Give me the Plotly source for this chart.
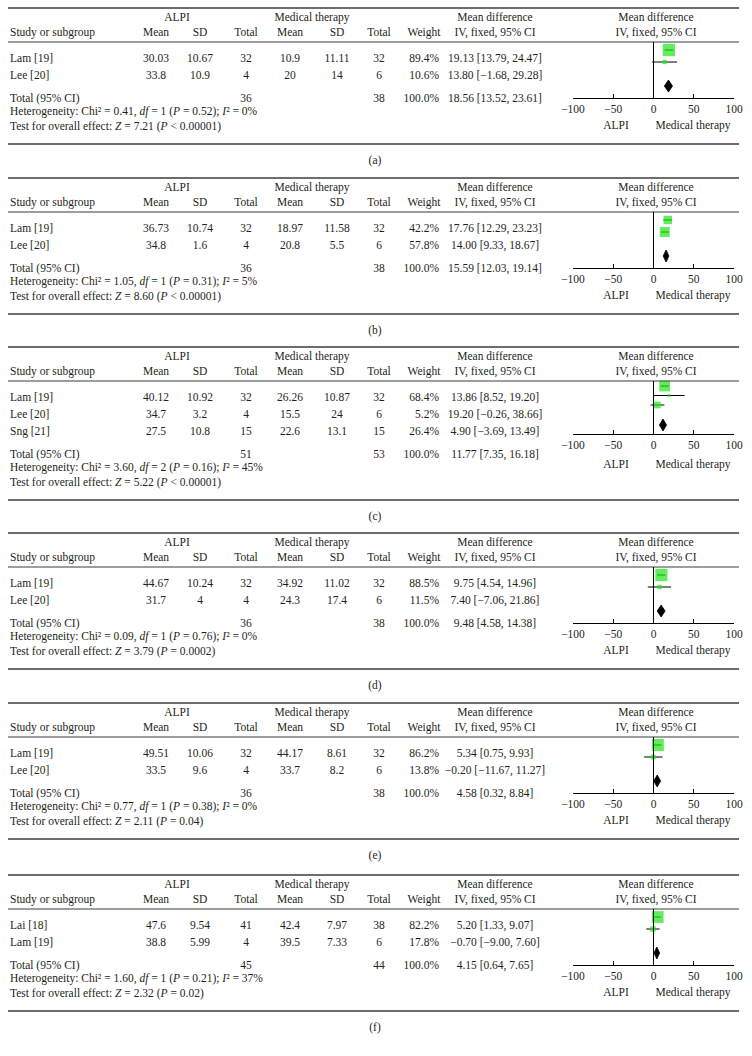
import math
import plotly.graph_objects as go

# ---------------- data ----------------
panel_labels = ["(a)", "(b)", "(c)", "(d)", "(e)", "(f)"]
study_names = [
    ["Lam [19]", "Lee [20]"],
    ["Lam [19]", "Lee [20]"],
    ["Lam [19]", "Lee [20]", "Sng [21]"],
    ["Lam [19]", "Lee [20]"],
    ["Lam [19]", "Lee [20]"],
    ["Lai [18]", "Lam [19]"],
]
alpi_mean = [[30.03, 33.8], [36.73, 34.8], [40.12, 34.7, 27.5], [44.67, 31.7], [49.51, 33.5], [47.6, 38.8]]
alpi_sd = [[10.67, 10.9], [10.74, 1.6], [10.92, 3.2, 10.8], [10.24, 4], [10.06, 9.6], [9.54, 5.99]]
alpi_n = [[32, 4], [32, 4], [32, 4, 15], [32, 4], [32, 4], [41, 4]]
med_mean = [[10.9, 20], [18.97, 20.8], [26.26, 15.5, 22.6], [34.92, 24.3], [44.17, 33.7], [42.4, 39.5]]
med_sd = [[11.11, 14], [11.58, 5.5], [10.87, 24, 13.1], [11.02, 17.4], [8.61, 8.2], [7.97, 7.33]]
med_n = [[32, 6], [32, 6], [32, 6, 15], [32, 6], [32, 6], [38, 6]]
weight = [[89.4, 10.6], [42.2, 57.8], [68.4, 5.2, 26.4], [88.5, 11.5], [86.2, 13.8], [82.2, 17.8]]
md = [[19.13, 13.80], [17.76, 14.00], [13.86, 19.20, 4.90], [9.75, 7.40], [5.34, -0.20], [5.20, -0.70]]
md_lo = [[13.79, -1.68], [12.29, 9.33], [8.52, -0.26, -3.69], [4.54, -7.06], [0.75, -11.67], [1.33, -9.00]]
md_hi = [[24.47, 29.28], [23.23, 18.67], [19.20, 38.66, 13.49], [14.96, 21.86], [9.93, 11.27], [9.07, 7.60]]
total_alpi_n = [36, 36, 51, 36, 36, 45]
total_med_n = [38, 38, 53, 38, 38, 44]
total_md = [18.56, 15.59, 11.77, 9.48, 4.58, 4.15]
total_lo = [13.52, 12.03, 7.35, 4.58, 0.32, 0.64]
total_hi = [23.61, 19.14, 16.18, 14.38, 8.84, 7.65]
het_chi2 = [0.41, 1.05, 3.60, 0.09, 0.77, 1.60]
het_df = [1, 1, 2, 1, 1, 1]
het_p = [0.52, 0.31, 0.16, 0.76, 0.38, 0.21]
het_i2 = [0, 5, 45, 0, 0, 37]
z_value = [7.21, 8.60, 5.22, 3.79, 2.11, 2.32]
z_p = ["&lt; 0.00001", "&lt; 0.00001", "&lt; 0.00001", "= 0.0002", "= 0.04", "= 0.02"]
axis_ticks = [-100, -50, 0, 50, 100]

# ---------------- style / layout ----------------
W, H = 752, 1056
FONT = "Liberation Serif"
FS = 11.5
TXT = "#231f20"
RULE = "#3c3c3c"
GREEN = "#1ee61a"
panel_tops = [8, 178, 347, 533, 703, 875]
col_x = dict(mean1=156, sd1=200, tot1=246, mean2=290, sd2=337, tot2=379, wt=439, ci=495)
plot_x0, plot_x1 = 573, 734


def fmt_g(v):
    return f"{v:g}".replace("-", "−")


def fmt2(v):
    return f"{v:.2f}".replace("-", "−")


fig = go.Figure()

texts = {"left": ([], [], []), "center": ([], [], []), "right": ([], [], [])}
shapes = []


def txt(x, y, s, anchor="center"):
    bx, by_, bt = texts[anchor]
    bx.append(x)
    by_.append(y)
    bt.append(s)


def hline(y, w=1.3):
    shapes.append(dict(type="line", xref="x", yref="y", x0=8, x1=739, y0=y, y1=y,
                       line=dict(color=RULE, width=w)))


for k in range(6):
    T = panel_tops[k]
    n = len(study_names[k])
    ax = f"x{k + 2}"

    # rules
    hline(T, 1.5)
    hline(T + 34, 1.2)

    # headers
    txt(177, T + 10, "ALPI")
    txt(312, T + 10, "Medical therapy")
    txt(col_x["ci"], T + 10, "Mean difference")
    txt(656, T + 10, "Mean difference")
    txt(10, T + 25, "Study or subgroup", "left")
    txt(col_x["mean1"], T + 25, "Mean")
    txt(col_x["sd1"], T + 25, "SD")
    txt(col_x["tot1"], T + 25, "Total")
    txt(col_x["mean2"], T + 25, "Mean")
    txt(col_x["sd2"], T + 25, "SD")
    txt(col_x["tot2"], T + 25, "Total")
    txt(424, T + 25, "Weight")
    txt(col_x["ci"], T + 25, "IV, fixed, 95% CI")
    txt(656, T + 25, "IV, fixed, 95% CI")

    # study rows
    row_y = [T + 51 + 17 * i for i in range(n)]
    for i in range(n):
        y = row_y[i]
        txt(10, y, study_names[k][i], "left")
        txt(col_x["mean1"], y, fmt_g(alpi_mean[k][i]))
        txt(col_x["sd1"], y, fmt_g(alpi_sd[k][i]))
        txt(col_x["tot1"], y, str(alpi_n[k][i]))
        txt(col_x["mean2"], y, fmt_g(med_mean[k][i]))
        txt(col_x["sd2"], y, fmt_g(med_sd[k][i]))
        txt(col_x["tot2"], y, str(med_n[k][i]))
        txt(col_x["wt"], y, f"{weight[k][i]:.1f}%", "right")
        txt(col_x["ci"], y, f"{fmt2(md[k][i])} [{fmt2(md_lo[k][i])}, {fmt2(md_hi[k][i])}]")

    ty = row_y[-1] + 23.5
    txt(10, ty, "Total (95% CI)", "left")
    txt(col_x["tot1"], ty, str(total_alpi_n[k]))
    txt(col_x["tot2"], ty, str(total_med_n[k]))
    txt(col_x["wt"], ty, "100.0%", "right")
    txt(col_x["ci"], ty, f"{fmt2(total_md[k])} [{fmt2(total_lo[k])}, {fmt2(total_hi[k])}]")
    hy = ty + 12.5
    txt(10, hy, f"Heterogeneity: Chi² = {het_chi2[k]:.2f}, <i>df</i> = {het_df[k]} "
                f"(<i>P</i> = {het_p[k]:.2f}); <i>I</i>² = {het_i2[k]}%", "left")
    zy = hy + 15
    txt(10, zy, f"Test for overall effect: <i>Z</i> = {z_value[k]:.2f} (<i>P</i> {z_p[k]})", "left")
    by = zy + 17
    hline(by, 1.5)
    txt(375, by + 17, panel_labels[k])

    # forest plot
    axis_y = T + 90 if n == 2 else T + 87
    mark_y = [T + 42, T + 54] if n == 2 else [T + 39, T + 48.5, T + 58]
    dia_y = T + 78
    fig.layout[f"xaxis{k + 2}"] = dict(
        domain=[plot_x0 / W, plot_x1 / W], range=[-100, 100], anchor="free",
        position=1 - axis_y / H, tickvals=axis_ticks, ticks="inside", ticklen=4,
        tickwidth=1, tickcolor="black", showline=True, linecolor="black", linewidth=1,
        showgrid=False, zeroline=False, fixedrange=True, automargin=False,
        tickfont=dict(family=FONT, size=FS, color=TXT))
    shapes.append(dict(type="line", xref=ax, yref="y", x0=0, x1=0, y0=T + 34, y1=axis_y,
                       line=dict(color="black", width=1)))
    sizes = [max(3, 1.3 * math.sqrt(w)) for w in weight[k]]
    fig.add_trace(go.Scatter(
        x=md[k], y=mark_y, mode="markers", xaxis=ax, yaxis="y", cliponaxis=False,
        marker=dict(symbol="square", size=sizes, color=GREEN, line=dict(width=0)),
        error_x=dict(type="data", symmetric=False,
                     array=[h - m for h, m in zip(md_hi[k], md[k])],
                     arrayminus=[m - l for m, l in zip(md[k], md_lo[k])],
                     color="black", thickness=1, width=0),
        hoverinfo="skip"))
    fig.add_trace(go.Scatter(
        x=[total_lo[k], total_md[k], total_hi[k], total_md[k], total_lo[k]],
        y=[dia_y, dia_y - 6, dia_y, dia_y + 6, dia_y],
        mode="lines", fill="toself", fillcolor="black", line=dict(color="black", width=0.8),
        xaxis=ax, yaxis="y", hoverinfo="skip"))
    txt(616, T + 118, "ALPI")
    txt(693, T + 118, "Medical therapy")

positions = {"left": "middle right", "center": "middle center", "right": "middle left"}
for anchor, (tx, tyy, tt) in texts.items():
    fig.add_trace(go.Scatter(
        x=tx, y=tyy, text=tt, mode="text", textposition=positions[anchor],
        textfont=dict(family=FONT, size=FS, color=TXT), cliponaxis=False,
        xaxis="x", yaxis="y", hoverinfo="skip"))

fig.update_layout(
    width=W, height=H, autosize=False, margin=dict(l=0, r=0, t=0, b=0, pad=0, autoexpand=False),
    paper_bgcolor="white", plot_bgcolor="rgba(0,0,0,0)", showlegend=False,
    xaxis=dict(range=[0, W], domain=[0, 1], visible=False, fixedrange=True),
    yaxis=dict(range=[H, 0], domain=[0, 1], visible=False, fixedrange=True),
    shapes=shapes,
)
fig.write_html("out.html", config={"displayModeBar": False, "staticPlot": True},
               post_script="document.body.style.margin='0';document.body.style.overflow='hidden';")
